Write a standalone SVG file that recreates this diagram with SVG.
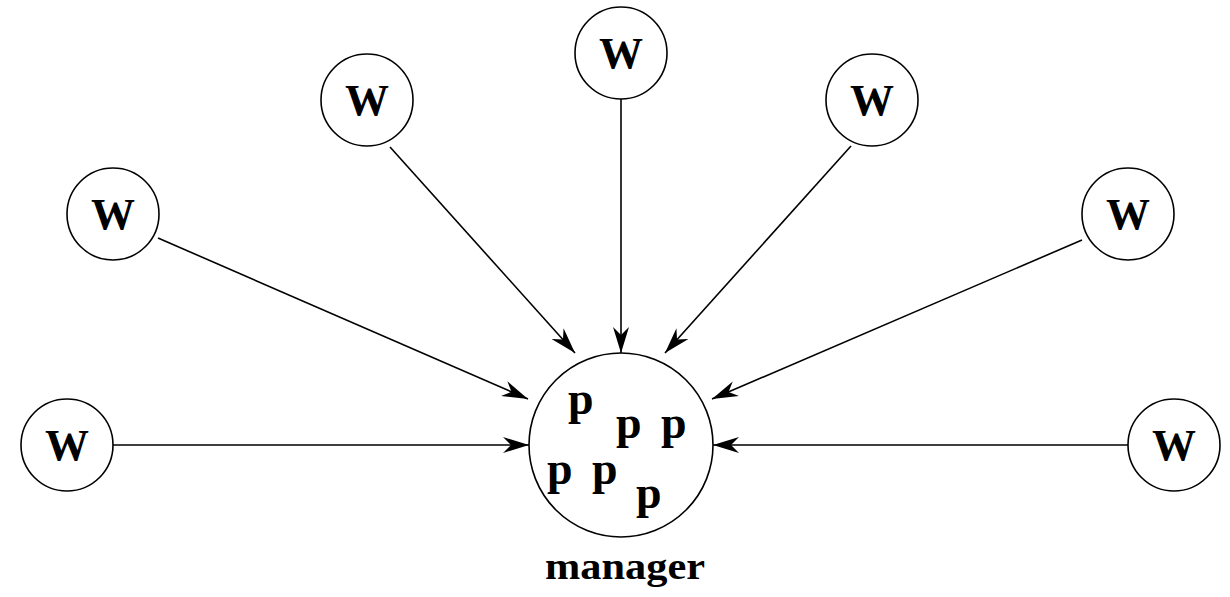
<svg xmlns="http://www.w3.org/2000/svg" width="1230" height="597" viewBox="0 0 1230 597">
<style>
.n{fill:#fff;stroke:#000;stroke-width:1.6}
.w{font-family:"Liberation Serif",serif;font-weight:bold;font-size:44px;text-anchor:middle}
.p{font-family:"Liberation Serif",serif;font-weight:bold;font-size:46px}
.c{stroke:#000;stroke-width:1.6;fill:none;marker-end:url(#ah)}
</style>
<defs>
<marker id="ah" viewBox="0 0 26 16" refX="26" refY="8" markerWidth="26" markerHeight="16" markerUnits="userSpaceOnUse" orient="auto">
<path d="M0,0 L26,8 L0,16 L8,8 z" fill="#000"/>
</marker>
</defs>
<rect width="1230" height="597" fill="#fff"/>
<g id="connectors">
<line class="c" x1="113" y1="445" x2="529" y2="445"/>
<line class="c" x1="158" y1="238" x2="528" y2="399"/>
<line class="c" x1="390" y1="147" x2="575" y2="353"/>
<line class="c" x1="621" y1="99" x2="621" y2="353"/>
<line class="c" x1="851" y1="146" x2="665" y2="353"/>
<line class="c" x1="1082" y1="240" x2="712" y2="399"/>
<line class="c" x1="1128" y1="445" x2="713" y2="445"/>
</g>
<g id="manager">
<circle class="n" cx="621" cy="445" r="92"/>
<text class="p" x="568" y="414">p</text>
<text class="p" x="616" y="438">p</text>
<text class="p" x="661" y="438">p</text>
<text class="p" x="547" y="484">p</text>
<text class="p" x="592" y="484">p</text>
<text class="p" x="636" y="508">p</text>
<text x="625" y="579" font-family="Liberation Serif,serif" font-weight="bold" font-size="38" text-anchor="middle" textLength="160" lengthAdjust="spacingAndGlyphs">manager</text>
</g>
<g id="w1"><circle class="n" cx="67" cy="445" r="46"/><text class="w" x="67" y="460">W</text></g>
<g id="w2"><circle class="n" cx="113" cy="214" r="46"/><text class="w" x="113" y="229">W</text></g>
<g id="w3"><circle class="n" cx="367" cy="100" r="46"/><text class="w" x="367" y="115">W</text></g>
<g id="w4"><circle class="n" cx="621" cy="53" r="46"/><text class="w" x="621" y="68">W</text></g>
<g id="w5"><circle class="n" cx="872" cy="100" r="46"/><text class="w" x="872" y="115">W</text></g>
<g id="w6"><circle class="n" cx="1128" cy="214" r="46"/><text class="w" x="1128" y="229">W</text></g>
<g id="w7"><circle class="n" cx="1174" cy="445" r="46"/><text class="w" x="1174" y="460">W</text></g>
</svg>
